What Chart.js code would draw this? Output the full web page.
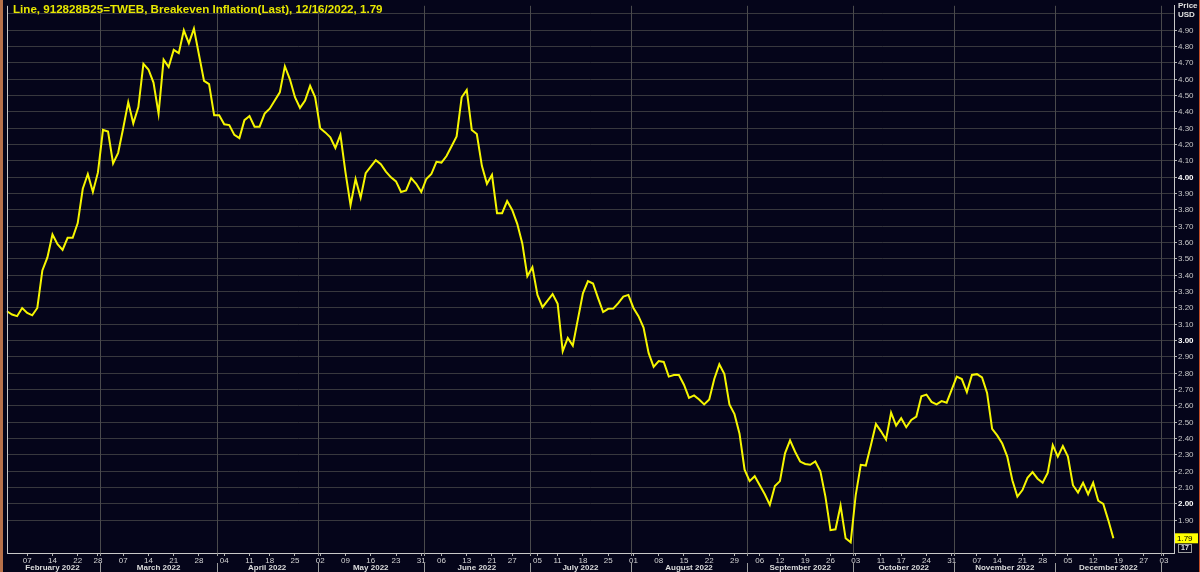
<!DOCTYPE html>
<html>
<head>
<meta charset="utf-8">
<script src="https://cdn.jsdelivr.net/npm/chart.js@4"></script>
<style>
html, body { margin: 0; padding: 0; background: #05051a; }
#wrap { width: 1200px; height: 572px; position: relative; }
</style>
</head>
<body>
<div id="wrap"><canvas id="bei"></canvas></div>
<script>
// bond market holidays, used to build the trading day axis
const holidays = ['2022-02-21', '2022-04-15', '2022-05-30', '2022-06-20', '2022-07-04',
  '2022-09-05', '2022-10-10', '2022-11-11', '2022-11-24', '2022-12-26', '2023-01-02'];

// breakeven inflation, one value per trading day from 2022-02-01 to 2022-12-16
const breakeven = [
  3.18, 3.16, 3.15, 3.20, 3.17, 3.155, 3.20, 3.43, 3.51, 3.65,
  3.59, 3.555, 3.63, 3.63, 3.72, 3.93, 4.02, 3.91, 4.03, 4.29,
  4.28, 4.085, 4.15, 4.30, 4.46, 4.33, 4.43, 4.695, 4.66, 4.58,
  4.39, 4.72, 4.675, 4.78, 4.76, 4.90, 4.82, 4.91, 4.75, 4.59,
  4.57, 4.38, 4.38, 4.325, 4.32, 4.26, 4.24, 4.35, 4.375, 4.31,
  4.31, 4.39, 4.42, 4.47, 4.52, 4.68, 4.60, 4.49, 4.425, 4.47,
  4.56, 4.49, 4.30, 4.275, 4.245, 4.18, 4.26, 4.03, 3.83, 3.99,
  3.875, 4.025, 4.065, 4.105, 4.08, 4.035, 4.00, 3.975, 3.91, 3.92,
  3.995, 3.96, 3.91, 3.99, 4.02, 4.095, 4.09, 4.13, 4.19, 4.25,
  4.49, 4.535, 4.29, 4.265, 4.07, 3.96, 4.015, 3.78, 3.78, 3.855,
  3.80, 3.715, 3.595, 3.395, 3.45, 3.28, 3.205, 3.245, 3.285, 3.225,
  2.935, 3.017, 2.97, 3.13, 3.29, 3.365, 3.35, 3.26, 3.175, 3.195,
  3.196, 3.23, 3.27, 3.28, 3.20, 3.15, 3.08, 2.925, 2.84, 2.875,
  2.87, 2.78, 2.79, 2.79, 2.73, 2.65, 2.665, 2.64, 2.61, 2.64,
  2.765, 2.855, 2.795, 2.61, 2.55, 2.43, 2.21, 2.14, 2.17, 2.115,
  2.06, 1.995, 2.11, 2.14, 2.31, 2.39, 2.32, 2.26, 2.245, 2.24,
  2.26, 2.20, 2.045, 1.84, 1.845, 1.99, 1.79, 1.765, 2.055, 2.24,
  2.235, 2.36, 2.49, 2.445, 2.395, 2.56, 2.48, 2.525, 2.47, 2.515,
  2.535, 2.66, 2.67, 2.625, 2.61, 2.63, 2.62, 2.70, 2.78, 2.765,
  2.685, 2.79, 2.795, 2.775, 2.68, 2.46, 2.42, 2.37, 2.29, 2.145,
  2.045, 2.085, 2.16, 2.195, 2.155, 2.13, 2.19, 2.36, 2.29, 2.355,
  2.29, 2.115, 2.07, 2.13, 2.06, 2.13, 2.02, 2.00, 1.90, 1.79
];

const yTicks = [1.9, 2.0, 2.1, 2.2, 2.3, 2.4, 2.5, 2.6, 2.7, 2.8, 2.9,
  3.0, 3.1, 3.2, 3.3, 3.4, 3.5, 3.6, 3.7, 3.8, 3.9,
  4.0, 4.1, 4.2, 4.3, 4.4, 4.5, 4.6, 4.7, 4.8, 4.9, 5.0];

const monthNames = ['February 2022', 'March 2022', 'April 2022', 'May 2022', 'June 2022',
  'July 2022', 'August 2022', 'September 2022', 'October 2022', 'November 2022', 'December 2022'];

const titleText = 'Line, 912828B25=TWEB, Breakeven Inflation(Last), 12/16/2022, 1.79';
const lastLabel = '1.79';

// trading days (weekdays minus holidays) from Feb 1 2022 to Jan 5 2023
const days = [];
for (let d = new Date(Date.UTC(2022, 1, 1)); d <= Date.UTC(2023, 0, 5); d.setUTCDate(d.getUTCDate() + 1)) {
  const wd = d.getUTCDay();
  const s = d.toISOString().slice(0, 10);
  if (wd === 0 || wd === 6 || holidays.includes(s)) continue;
  days.push(s);
}
const dow = s => new Date(s + 'T00:00:00Z').getUTCDay();
const weekStarts = [];
const monthStarts = [];
for (let i = 1; i < days.length; i++) {
  if (dow(days[i]) < dow(days[i - 1])) weekStarts.push(i);
  if (days[i].slice(5, 7) !== days[i - 1].slice(5, 7)) monthStarts.push(i);
}

const isWhole = c => !!(c.tick && Math.abs(c.tick.value - Math.round(c.tick.value)) < 0.001);

const decor = {
  id: 'decor',
  beforeDraw(chart) {
    const c = chart.ctx;
    c.save();
    c.fillStyle = '#05051a';
    c.fillRect(0, 0, chart.width, chart.height);
    c.restore();
  },
  beforeDatasetsDraw(chart) {
    const c = chart.ctx, a = chart.chartArea, x = chart.scales.x;
    c.save();
    c.strokeStyle = '#4a4a4c';
    c.lineWidth = 1;
    monthStarts.forEach(i => {
      const px = Math.round(x.getPixelForValue(i - 0.5)) + 0.5;
      c.beginPath(); c.moveTo(px, a.top); c.lineTo(px, a.bottom); c.stroke();
    });
    c.restore();
  },
  afterDraw(chart) {
    const c = chart.ctx, a = chart.chartArea, x = chart.scales.x, y = chart.scales.y;
    c.save();
    // frame
    c.strokeStyle = '#c8c8c8';
    c.lineWidth = 1;
    c.beginPath(); c.moveTo(a.left + 0.5, a.top); c.lineTo(a.left + 0.5, a.bottom); c.stroke();
    c.fillStyle = '#b8714a';
    c.fillRect(0, 0, 3, chart.height);
    c.fillStyle = '#c8502a';
    c.fillRect(chart.width - 1, 0, 1, chart.height);

    // month separators and names
    const bounds = [-0.5].concat(monthStarts.map(i => i - 0.5));
    c.strokeStyle = '#9a9a9a';
    monthStarts.forEach(i => {
      const px = Math.round(x.getPixelForValue(i - 0.5)) + 0.5;
      c.beginPath(); c.moveTo(px, a.bottom); c.lineTo(px, a.bottom + 3); c.stroke();
      c.beginPath(); c.moveTo(px, a.bottom + 10); c.lineTo(px, chart.height); c.stroke();
    });
    c.fillStyle = '#dcdcdc';
    c.font = 'bold 8px "Liberation Sans", Arial, sans-serif';
    c.textAlign = 'center';
    c.textBaseline = 'middle';
    monthNames.forEach((m, k) => {
      const mid = (x.getPixelForValue(bounds[k]) + x.getPixelForValue(bounds[k + 1])) / 2;
      c.fillText(m, Math.max(mid, a.left + 30), a.bottom + 15);
    });

    // title
    c.textAlign = 'left';
    c.fillStyle = '#e8e800';
    c.font = 'bold 11.6px "Liberation Sans", Arial, sans-serif';
    c.fillText(titleText, 13, 10);

    // axis header
    c.fillStyle = '#e0e0e0';
    c.font = 'bold 8px "Liberation Sans", Arial, sans-serif';
    c.fillText('Price', a.right + 4, 6);
    c.fillText('USD', a.right + 4, 15);

    // last value tag
    const ly = y.getPixelForValue(breakeven[breakeven.length - 1]);
    c.fillStyle = '#ffff00';
    c.fillRect(a.right + 1, ly - 5, 23, 10);
    c.fillStyle = '#000';
    c.font = '8px "Liberation Sans", Arial, sans-serif';
    c.fillText(lastLabel, a.right + 3, ly);
    c.strokeStyle = '#9a9a9a';
    c.strokeRect(a.right + 4.5, a.bottom - 8.5, 13, 8);
    c.fillStyle = '#e0e0e0';
    c.font = 'bold 7px "Liberation Sans", Arial, sans-serif';
    c.fillText('17', a.right + 7, a.bottom - 4.5);
    c.restore();
  }
};

const ctx = document.getElementById('bei').getContext('2d');
const bei = new Chart(ctx, {
  type: 'line',
  data: {
    labels: days,
    datasets: [{
      label: 'Breakeven Inflation',
      data: breakeven,
      borderColor: '#f6f600',
      borderWidth: 2,
      pointRadius: 0,
      tension: 0,
      fill: false
    }]
  },
  options: {
    responsive: true,
    maintainAspectRatio: false,
    animation: false,
    layout: { padding: { left: 7, top: 2, right: 0, bottom: 0 } },
    plugins: { legend: { display: false }, tooltip: { enabled: false } },
    scales: {
      x: {
        type: 'category',
        afterBuildTicks: s => { s.ticks = weekStarts.map(i => ({ value: i })); },
        afterFit: s => { s.height = 19; },
        grid: { drawOnChartArea: false, tickLength: 3, tickColor: '#b0b0b0' },
        border: { color: '#c8c8c8' },
        ticks: {
          autoSkip: false,
          maxRotation: 0,
          padding: 0,
          color: '#d4d4d4',
          font: { family: '"Liberation Sans", Arial, sans-serif', size: 8 },
          callback: v => days[v].slice(8, 10)
        }
      },
      y: {
        position: 'right',
        min: 1.70,
        max: 5.05,
        afterBuildTicks: s => { s.ticks = yTicks.map(v => ({ value: v })); },
        afterFit: s => { s.width = 26; },
        grid: {
          color: '#38383e',
          tickLength: 3,
          tickColor: c => (c.tick && c.tick.value > 4.95 ? 'rgba(0,0,0,0)' : '#b0b0b0')
        },
        border: { color: '#c8c8c8' },
        ticks: {
          padding: 1,
          color: c => (isWhole(c) ? '#ffffff' : '#c8c8c8'),
          font: c => ({
            family: '"Liberation Sans", Arial, sans-serif',
            size: 8,
            weight: isWhole(c) ? 'bold' : 'normal'
          }),
          callback: v => (v > 4.95 ? '' : v.toFixed(2))
        }
      }
    }
  },
  plugins: [decor]
});
</script>
</body>
</html>
